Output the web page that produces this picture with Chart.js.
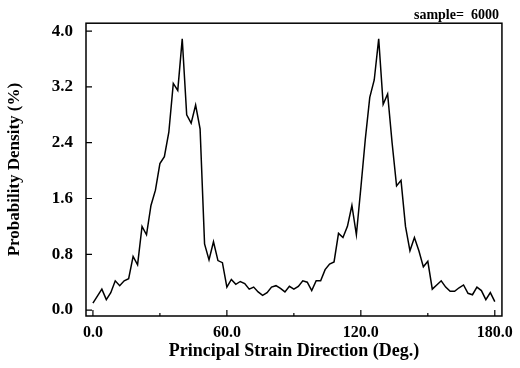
<!DOCTYPE html>
<html>
<head>
<meta charset="utf-8">
<script src="https://cdn.jsdelivr.net/npm/chart.js@4/dist/chart.umd.min.js"></script>
<style>
  html, body { margin: 0; padding: 0; background: #fff; }
  #wrap { width: 520px; height: 368px; }
</style>
</head>
<body>
<div id="wrap"><canvas id="myChart" width="520" height="368"></canvas></div>
<script>
// principal strain direction (deg), 2 degree bins
const directions = [
    0, 2, 4, 6, 8, 10, 12, 14, 16, 18, 20, 22, 24, 26, 28, 30, 32, 34, 36, 38,
    40, 42, 44, 46, 48, 50, 52, 54, 56, 58, 60, 62, 64, 66, 68, 70, 72, 74, 76, 78,
    80, 82, 84, 86, 88, 90, 92, 94, 96, 98, 100, 102, 104, 106, 108, 110, 112, 114, 116, 118,
    120, 122, 124, 126, 128, 130, 132, 134, 136, 138, 140, 142, 144, 146, 148, 150, 152, 154, 156, 158,
    160, 162, 164, 166, 168, 170, 172, 174, 176, 178, 180
];
// probability density (%)
const density = [
    0.10, 0.20, 0.30, 0.15, 0.25, 0.42, 0.35, 0.42, 0.45, 0.77, 0.65, 1.20, 1.08, 1.50, 1.72, 2.10, 2.20, 2.55, 3.25, 3.15,
    3.89, 2.80, 2.68, 2.94, 2.60, 0.95, 0.72, 0.98, 0.71, 0.68, 0.33, 0.44, 0.37, 0.41, 0.38, 0.30, 0.33, 0.26, 0.21, 0.25,
    0.33, 0.35, 0.31, 0.26, 0.34, 0.30, 0.34, 0.42, 0.40, 0.28, 0.42, 0.42, 0.58, 0.66, 0.69, 1.10, 1.04, 1.20, 1.50, 1.08,
    1.75, 2.45, 3.05, 3.30, 3.89, 2.95, 3.10, 2.40, 1.78, 1.86, 1.20, 0.85, 1.04, 0.85, 0.62, 0.70, 0.30, 0.36, 0.42, 0.33,
    0.27, 0.27, 0.32, 0.36, 0.24, 0.22, 0.33, 0.28, 0.15, 0.25, 0.12
];
const xTicks = [0, 60, 120, 180];
const xMinorTicks = [30, 90, 150];
const yTicks = [0, 0.8, 1.6, 2.4, 3.2, 4.0];
const sampleText = 'sample=  6000';

const serif = '"Liberation Serif", "DejaVu Serif", serif';

// frame, inward ticks and sample label
const framePlugin = {
    id: 'frame',
    afterDraw(chart) {
        const { ctx, chartArea: a, scales } = chart;
        ctx.save();
        ctx.strokeStyle = '#000';
        ctx.lineWidth = 1.5;
        ctx.strokeRect(a.left, a.top, a.width, a.height);
        ctx.lineWidth = 1.2;
        ctx.beginPath();
        xTicks.forEach(v => {
            const x = scales.x.getPixelForValue(v);
            ctx.moveTo(x, a.bottom); ctx.lineTo(x, a.bottom - 6);
        });
        xMinorTicks.forEach(v => {
            const x = scales.x.getPixelForValue(v);
            ctx.moveTo(x, a.bottom); ctx.lineTo(x, a.bottom - 3);
        });
        yTicks.forEach(v => {
            const y = scales.y.getPixelForValue(v);
            ctx.moveTo(a.left, y); ctx.lineTo(a.left + 6, y);
        });
        ctx.stroke();
        // sample count
        ctx.fillStyle = '#000';
        ctx.font = 'bold 14px ' + serif;
        ctx.textAlign = 'right';
        ctx.textBaseline = 'middle';
        ctx.fillText(sampleText, a.right - 3, 15);
        ctx.restore();
    }
};

new Chart(document.getElementById('myChart'), {
    type: 'line',
    data: {
        datasets: [{
            data: directions.map((d, i) => ({ x: d, y: density[i] })),
            borderColor: '#000',
            borderWidth: 1.5,
            pointRadius: 0,
            tension: 0,
            fill: false
        }]
    },
    options: {
        responsive: false,
        animation: false,
        events: [],
        layout: { padding: { left: 0, right: 12, top: 21, bottom: 0 } },
        plugins: {
            legend: { display: false },
            tooltip: { enabled: false }
        },
        scales: {
            x: {
                type: 'linear',
                min: -3.1,
                max: 183.2,
                afterFit: s => { s.height = 52; },
                afterBuildTicks: s => { s.ticks = xTicks.map(v => ({ value: v })); },
                grid: { display: false, drawTicks: false },
                border: { display: false },
                ticks: {
                    padding: 7,
                    color: '#000',
                    font: { family: serif, size: 16, weight: 'bold' },
                    maxRotation: 0,
                    callback: v => v.toFixed(1)
                },
                title: {
                    display: true,
                    text: 'Principal Strain Direction (Deg.)',
                    color: '#000',
                    font: { family: serif, size: 18, weight: 'bold' },
                    padding: { top: 0, bottom: 6 }
                }
            },
            y: {
                min: -0.085,
                max: 4.114,
                afterFit: s => { s.width = 86; },
                afterBuildTicks: s => { s.ticks = yTicks.map(v => ({ value: v })); },
                grid: { display: false, drawTicks: false },
                border: { display: false },
                ticks: {
                    padding: 13,
                    color: '#000',
                    font: { family: serif, size: 17, weight: 'bold' },
                    callback: v => v.toFixed(1)
                },
                title: {
                    display: true,
                    text: 'Probability Density (%)',
                    color: '#000',
                    font: { family: serif, size: 17, weight: 'bold' },
                    padding: { top: 4, bottom: 0 }
                }
            }
        }
    },
    plugins: [framePlugin]
});
</script>
</body>
</html>
